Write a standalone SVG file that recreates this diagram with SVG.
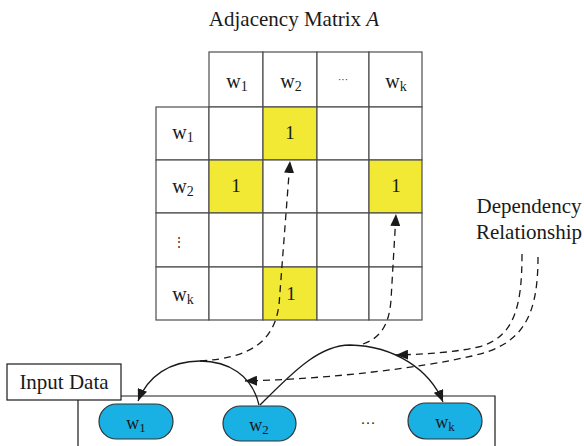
<svg xmlns="http://www.w3.org/2000/svg" width="584" height="446" viewBox="0 0 584 446">
  <style>
    .t { font-family: "Liberation Serif", "Times New Roman", serif; fill: #1a1a1a; }
    .lbl { font-size: 20px; text-anchor: middle; }
    .num { font-size: 19px; text-anchor: middle; }
    .big { font-size: 21px; text-anchor: middle; }
    .node { font-size: 18px; text-anchor: middle; }
    .sub { font-size: 14px; }
    .nsub { font-size: 13px; }
    .cell { fill: #ffffff; stroke: #4d4d4d; stroke-width: 1.2; }
    .hit { fill: #f2e935; stroke: #4d4d4d; stroke-width: 1.2; }
    .pill { fill: #19b0e3; stroke: #333333; stroke-width: 1.2; }
    .arc { fill: none; stroke: #1a1a1a; stroke-width: 1.3; }
    .dash { fill: none; stroke: #1a1a1a; stroke-width: 1.3; stroke-dasharray: 7 5; }
    .frame { fill: none; stroke: #1a1a1a; stroke-width: 1.2; }
  </style>
  <defs>
    <marker id="head" viewBox="0 0 12 10" refX="12" refY="5" markerWidth="12" markerHeight="10" markerUnits="userSpaceOnUse" orient="auto">
      <path d="M0,0 L12,5 L0,10 Z" fill="#1a1a1a"/>
    </marker>
  </defs>

  <!-- title -->
  <text class="t big" x="294" y="26">Adjacency Matrix <tspan font-style="italic">A</tspan></text>

  <!-- adjacency matrix -->
  <g id="matrix">
    <!-- column headers -->
    <rect class="cell" x="209" y="52" width="54" height="55"/>
    <rect class="cell" x="263" y="52" width="54" height="55"/>
    <rect class="cell" x="317" y="52" width="52" height="55"/>
    <rect class="cell" x="369" y="52" width="53" height="55"/>
    <!-- row headers -->
    <rect class="cell" x="156" y="107" width="53" height="53"/>
    <rect class="cell" x="156" y="160" width="53" height="53"/>
    <rect class="cell" x="156" y="213" width="53" height="54"/>
    <rect class="cell" x="156" y="267" width="53" height="53"/>
    <!-- row w1 -->
    <rect class="cell" x="209" y="107" width="54" height="53"/>
    <rect class="hit"  x="263" y="107" width="54" height="53"/>
    <rect class="cell" x="317" y="107" width="52" height="53"/>
    <rect class="cell" x="369" y="107" width="53" height="53"/>
    <!-- row w2 -->
    <rect class="hit"  x="209" y="160" width="54" height="53"/>
    <rect class="cell" x="263" y="160" width="54" height="53"/>
    <rect class="cell" x="317" y="160" width="52" height="53"/>
    <rect class="hit"  x="369" y="160" width="53" height="53"/>
    <!-- row ... -->
    <rect class="cell" x="209" y="213" width="54" height="54"/>
    <rect class="cell" x="263" y="213" width="54" height="54"/>
    <rect class="cell" x="317" y="213" width="52" height="54"/>
    <rect class="cell" x="369" y="213" width="53" height="54"/>
    <!-- row wk -->
    <rect class="cell" x="209" y="267" width="54" height="53"/>
    <rect class="hit"  x="263" y="267" width="54" height="53"/>
    <rect class="cell" x="317" y="267" width="52" height="53"/>
    <rect class="cell" x="369" y="267" width="53" height="53"/>

    <!-- header labels -->
    <text class="t lbl" x="237" y="88">w<tspan class="sub" dy="3">1</tspan></text>
    <text class="t lbl" x="291" y="88">w<tspan class="sub" dy="3">2</tspan></text>
    <text class="t" x="343" y="83" font-size="10" text-anchor="middle" fill="#555">···</text>
    <text class="t lbl" x="396" y="88">w<tspan class="sub" dy="3">k</tspan></text>

    <text class="t lbl" x="183" y="139">w<tspan class="sub" dy="3">1</tspan></text>
    <text class="t lbl" x="183" y="193">w<tspan class="sub" dy="3">2</tspan></text>
    <text class="t" x="179" y="246" font-family="DejaVu Sans, sans-serif" font-size="12" text-anchor="middle">⋮</text>
    <text class="t lbl" x="183" y="301">w<tspan class="sub" dy="3">k</tspan></text>

    <!-- entries -->
    <text class="t num" x="290" y="139">1</text>
    <text class="t num" x="236" y="192">1</text>
    <text class="t num" x="396" y="192">1</text>
    <text class="t num" x="291" y="300">1</text>
  </g>

  <!-- side label -->
  <g id="dependency-label">
    <text class="t big" x="529" y="213">Dependency</text>
    <text class="t big" x="529" y="239">Relationship</text>
  </g>

  <!-- input data box and frame -->
  <g id="input-data">
    <rect class="frame" x="7" y="364" width="114" height="36" fill="#fff"/>
    <text class="t big" x="64" y="389">Input Data</text>
  </g>
  <path class="frame" d="M121,396 H495 V446 M78,400 V446"/>

  <!-- word nodes -->
  <g id="node-w1">
    <rect class="pill" x="99" y="404" width="74" height="35" rx="17.5"/>
    <text class="t node" x="136" y="429">w<tspan class="nsub" dy="3">1</tspan></text>
  </g>
  <g id="node-w2">
    <rect class="pill" x="223" y="406" width="73" height="35" rx="17.5"/>
    <text class="t node" x="259" y="431">w<tspan class="nsub" dy="3">2</tspan></text>
  </g>
  <text class="t" x="368" y="428" font-size="15" text-anchor="middle">···</text>
  <g id="node-wk">
    <rect class="pill" x="408" y="403" width="74" height="36" rx="18"/>
    <text class="t node" x="445" y="428">w<tspan class="nsub" dy="3">k</tspan></text>
  </g>

  <!-- connectors -->
  <g id="connectors">
    <!-- dependency arcs between words -->
    <path class="arc" d="M259,405 C252,375 228,361 200,361 C170,361 148,376 138,401" marker-end="url(#head)"/>
    <path class="arc" d="M260,405 C290,375 318,345 350,345 C395,346 430,370 443,402" marker-end="url(#head)"/>
    <!-- arcs mapped to matrix entries -->
    <path class="dash" d="M200,361 C250,358 274,342 279,305 L290,161" marker-end="url(#head)"/>
    <path class="dash" d="M363,344 C380,338 389,326 391,300 L396,214" marker-end="url(#head)"/>
    <!-- label pointers -->
    <path class="dash" d="M522,254 C522,305 515,338 478,347 C455,352 432,354 396,355" marker-end="url(#head)"/>
    <path class="dash" d="M538,257 C538,318 522,345 472,356 C420,368 330,379 245,381" marker-end="url(#head)"/>
  </g>
</svg>
